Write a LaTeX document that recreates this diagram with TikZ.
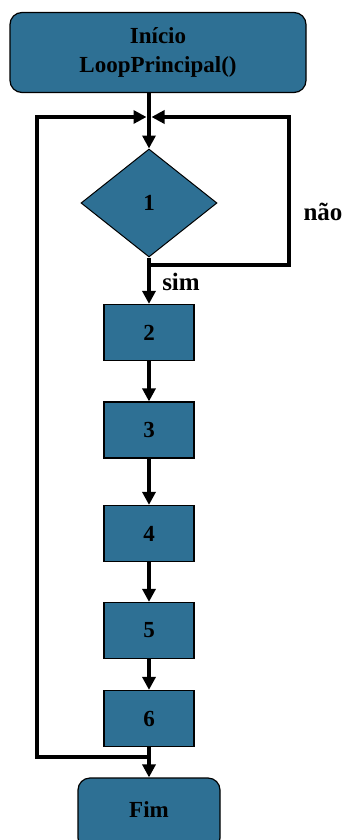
\documentclass[tikz,border=0pt]{standalone}
\usepackage{fontspec}
\setmainfont{Liberation Serif}
\usetikzlibrary{arrows.meta,shapes.geometric}
\definecolor{boxblue}{RGB}{46,112,148}
\begin{document}
\begin{tikzpicture}[x=1pt,y=-1pt,
  every node/.style={font=\fontsize{23}{29}\selectfont\bfseries},
  term/.style={draw=black,line width=1.2pt,fill=boxblue,rounded corners=12pt,inner sep=0pt,align=center},
  proc/.style={draw=black,line width=1.2pt,fill=boxblue,minimum width=90pt,minimum height=56pt,inner sep=0pt},
  dec/.style={draw=black,line width=1pt,fill=boxblue,diamond,minimum width=136pt,minimum height=108pt,inner sep=0pt},
  flow/.style={line width=4pt,line join=miter},
  arr/.style={flow,-{Triangle[width=13pt,length=13pt]}},
  lbl/.style={font=\fontsize{25}{29}\selectfont\bfseries}]
\useasboundingbox (0,0) rectangle (344,840);
\node[term,minimum width=296pt,minimum height=80pt] (start) at (158,52.5) {Início\\LoopPrincipal()};
\node[dec] (d1) at (149,203) {1};
\node[proc] (b2) at (149,332.5) {2};
\node[proc] (b3) at (149,430) {3};
\node[proc] (b4) at (149,533.5) {4};
\node[proc] (b5) at (149,630.5) {5};
\node[proc] (b6) at (149,718.5) {6};
\node[term,minimum width=142pt,minimum height=72pt] (fim) at (149,814) {};
\node (fimt) at (149,810) {Fim};
\coordinate (s0) at (149,93);
\coordinate (j) at (149,117);
\coordinate (jl) at (146.5,117);
\coordinate (jr) at (151.5,117);
\coordinate (lt) at (37,117);
\coordinate (lb) at (37,757);
\coordinate (k) at (149,757);
\coordinate (rt) at (289,117);
\coordinate (rb) at (289,265);
\coordinate (r0) at (149,265);
\draw[arr] (s0) -- (d1.north);
\draw[arr] (d1.south) -- (b2.north);
\draw[arr] (b2.south) -- (b3.north);
\draw[arr] (b3.south) -- (b4.north);
\draw[arr] (b4.south) -- (b5.north);
\draw[arr] (b5.south) -- (b6.north);
\draw[arr] (b6.south) -- (fim.north);
\draw[arr] (k) -- (lb) -- (lt) -- (jl);
\draw[arr] (r0) -- (rb) -- (rt) -- (jr);
\node[lbl] (nao) at (323,212) {não};
\node[lbl] (sim) at (181,282) {sim};
\end{tikzpicture}
\end{document}
